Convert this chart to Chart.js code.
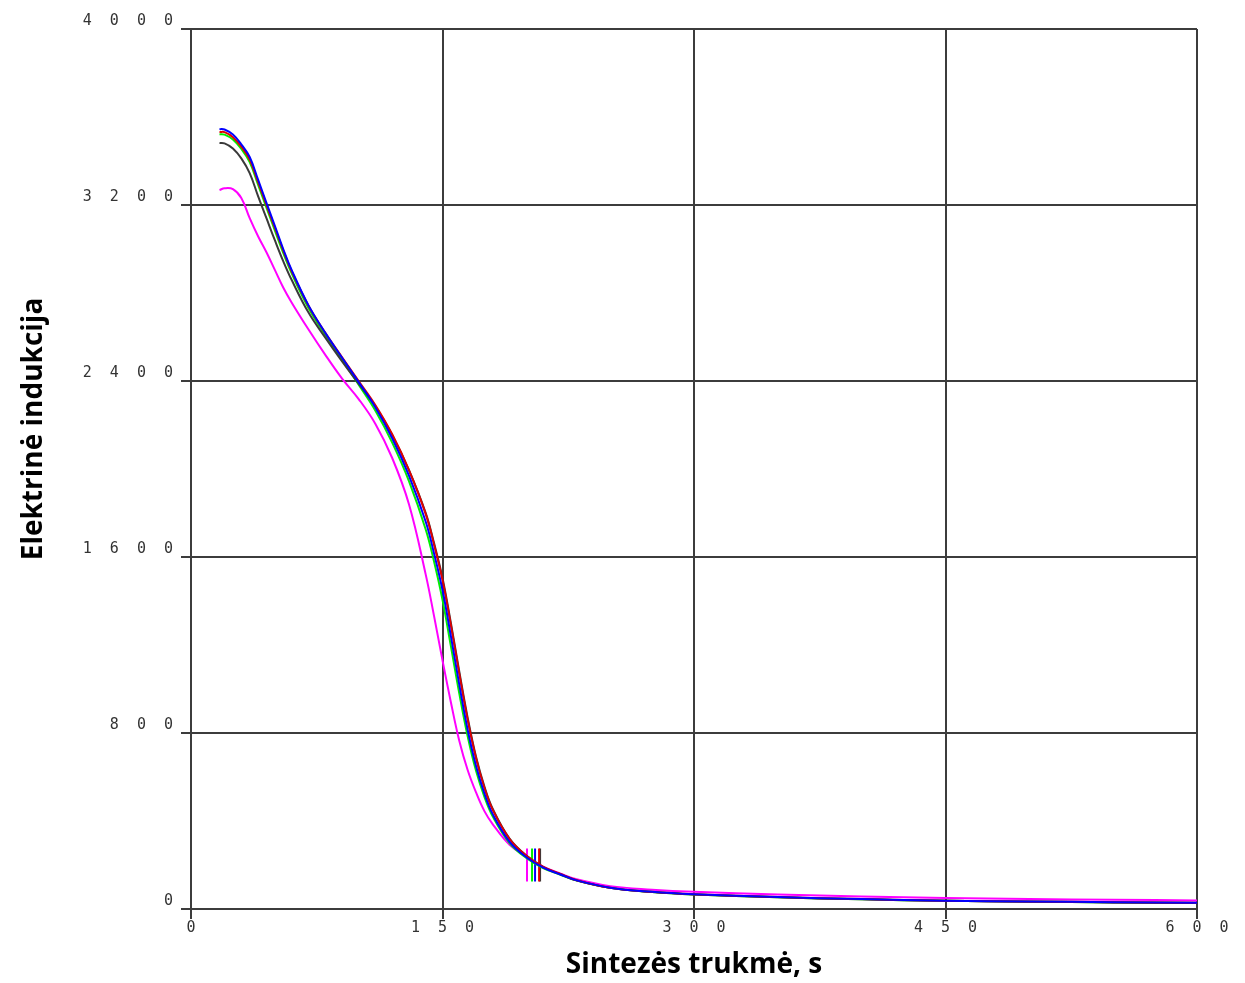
<!DOCTYPE html>
<html>
<head>
<meta charset="utf-8">
<script src="https://cdn.jsdelivr.net/npm/chart.js@4/dist/chart.umd.min.js"></script>
<style>
  body { margin: 0; background: #fff; }
  canvas { display: block; }
</style>
</head>
<body>
<canvas id="myChart" width="1245" height="983"></canvas>
<script>
// sintezes trukme (s)
var laikas = [17, 20, 25, 30, 35, 40, 45, 50, 55, 60, 70, 80, 90, 100, 110, 120, 130, 140, 145, 150, 155, 160, 165, 170, 175, 180, 190, 200, 210, 220, 230, 250, 275, 300, 350, 400, 450, 500, 550, 600];

var melyna = [3545, 3543, 3520, 3476, 3418, 3315, 3210, 3105, 3000, 2905, 2745, 2620, 2507, 2395, 2280, 2140, 1970, 1760, 1615, 1450, 1240, 1020, 815, 650, 525, 430, 305, 235, 188, 158, 130, 97, 78, 67, 54, 45, 38, 34, 31, 28];
var raudona = [3532, 3531, 3508, 3465, 3407, 3305, 3200, 3097, 2994, 2900, 2743, 2620, 2509, 2400, 2290, 2158, 1995, 1795, 1655, 1495, 1290, 1070, 860, 685, 550, 450, 318, 242, 192, 160, 131, 97, 78, 67, 54, 45, 38, 34, 31, 28];
var juoda = [3482, 3480, 3457, 3412, 3345, 3240, 3140, 3040, 2945, 2860, 2712, 2598, 2490, 2388, 2285, 2155, 1995, 1800, 1662, 1505, 1300, 1080, 870, 692, 557, 455, 320, 243, 192, 159, 130, 96, 77, 66, 53, 44, 37, 33, 30, 27];
var zalia = [3522, 3520, 3498, 3455, 3395, 3292, 3188, 3085, 2982, 2890, 2733, 2610, 2497, 2383, 2265, 2120, 1945, 1725, 1578, 1405, 1195, 980, 785, 628, 510, 420, 300, 232, 186, 157, 129, 96, 77, 66, 53, 44, 37, 33, 30, 27];
var rozine = [3268, 3276, 3272, 3232, 3140, 3058, 2985, 2905, 2825, 2757, 2635, 2520, 2412, 2318, 2205, 2050, 1840, 1520, 1330, 1130, 940, 765, 632, 530, 445, 385, 292, 238, 192, 162, 135, 104, 88, 78, 66, 57, 50, 45, 42, 39];

// vertikalios zymes ties ~200 s
var zymesX = [205.2, 207.6, 208.2, 203.4, 200.4];
var zymesApacia = 125;
var zymesVirsus = 275;

var spalvos = ['#0000ff', '#e00000', '#3a3a3a', '#00ee00', '#ff00ff'];

var xTicks = [0, 150, 300, 450, 600];
var yTicks = [0, 800, 1600, 2400, 3200, 4000];

var xPavadinimas = 'Sintezės trukmė, s';
var yPavadinimas = 'Elektrinė indukcija';

function init() {
  getChart();
}

function taskai(ys) {
  var arr = [];
  for (var i = 0; i < laikas.length; i++) {
    arr.push({ x: laikas[i], y: ys[i] });
  }
  return arr;
}

function tarpai(v) {
  return String(v).split('').join('  ');
}

var yTitlePlugin = {
  id: 'yTitle',
  afterDraw: function (chart) {
    var ctx = chart.ctx;
    ctx.save();
    ctx.translate(34, 429);
    ctx.rotate(-Math.PI / 2);
    ctx.font = 'bold 28px "Open Sans"';
    ctx.fillStyle = '#000';
    ctx.textAlign = 'center';
    ctx.textBaseline = 'middle';
    ctx.fillText(yPavadinimas, 0, 0);
    ctx.restore();
  }
};

function getChart() {
  var serijos = [melyna, raudona, juoda, zalia, rozine];
  var datasets = [];

  for (var i = 0; i < serijos.length; i++) {
    datasets.push({
      data: taskai(serijos[i]),
      borderColor: spalvos[i],
      borderWidth: 2,
      pointRadius: 0,
      fill: false,
      tension: 0.4
    });
  }

  for (var j = 0; j < zymesX.length; j++) {
    datasets.push({
      data: [{ x: zymesX[j], y: zymesApacia }, { x: zymesX[j], y: zymesVirsus }],
      borderColor: spalvos[j],
      borderWidth: 2,
      pointRadius: 0,
      fill: false
    });
  }

  var gridas = {
    color: '#3c3c3c',
    lineWidth: 2,
    tickLength: 10,
    tickColor: '#3c3c3c'
  };

  var ctx = document.getElementById('myChart').getContext('2d');
  var chart = new Chart(ctx, {
    type: 'line',
    data: { datasets: datasets },
    plugins: [yTitlePlugin],
    options: {
      responsive: false,
      animation: false,
      layout: { padding: { left: 0, right: 48, top: 29, bottom: 0 } },
      plugins: {
        legend: { display: false },
        tooltip: { enabled: false }
      },
      scales: {
        x: {
          type: 'linear',
          min: 0,
          max: 600,
          afterBuildTicks: function (scale) {
            scale.ticks = xTicks.map(function (v) { return { value: v }; });
          },
          afterFit: function (scale) { scale.height = 74; },
          grid: gridas,
          border: { display: true, color: '#3c3c3c', width: 2 },
          ticks: {
            padding: 0,
            color: '#333',
            font: { family: 'DejaVu Sans Mono', size: 15 },
            maxRotation: 0,
            callback: tarpai
          },
          title: {
            display: true,
            text: xPavadinimas,
            color: '#000',
            font: { family: 'Open Sans', size: 28, weight: 'bold' },
            padding: { top: 0, bottom: 1 }
          }
        },
        y: {
          type: 'linear',
          min: 0,
          max: 4000,
          afterBuildTicks: function (scale) {
            scale.ticks = yTicks.map(function (v) { return { value: v }; });
          },
          afterFit: function (scale) { scale.width = 191; },
          grid: gridas,
          border: { display: true, color: '#3c3c3c', width: 2 },
          ticks: {
            align: 'end',
            padding: 8,
            color: '#333',
            font: { family: 'DejaVu Sans Mono', size: 15 },
            callback: tarpai
          }
        }
      }
    }
  });
}

init();
</script>
</body>
</html>
